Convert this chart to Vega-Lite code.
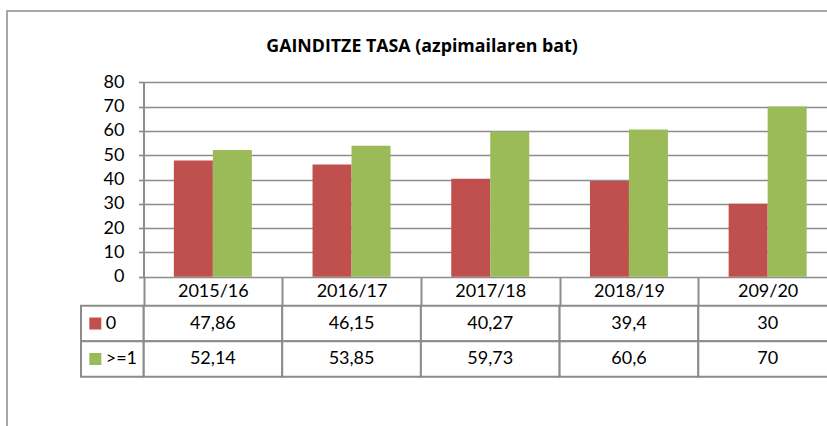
{
  "$schema": "https://vega.github.io/schema/vega-lite/v6.json",
  "autosize": "none",
  "padding": {"left": 7, "top": 11, "right": 0, "bottom": 0},
  "width": 830,
  "height": 430,
  "background": "white",
  "title": {
    "text": "GAINDITZE TASA (azpimailaren bat)",
    "anchor": "middle",
    "frame": "group",
    "offset": -54,
    "baseline": "middle",
    "font": "Open Sans",
    "fontSize": 17.8,
    "fontWeight": "bold",
    "color": "black"
  },
  "config": {
    "font": "Lato",
    "view": {"stroke": "#8c8c8c", "strokeWidth": 1.5},
    "locale": {"number": {"decimal": ",", "thousands": ".", "grouping": [3], "currency": ["", " €"]}}
  },
  "data": {
    "values": [
      {"year": "2015/16", "group": "0", "value": 47.86},
      {"year": "2015/16", "group": ">=1", "value": 52.14},
      {"year": "2016/17", "group": "0", "value": 46.15},
      {"year": "2016/17", "group": ">=1", "value": 53.85},
      {"year": "2017/18", "group": "0", "value": 40.27},
      {"year": "2017/18", "group": ">=1", "value": 59.73},
      {"year": "2018/19", "group": "0", "value": 39.4},
      {"year": "2018/19", "group": ">=1", "value": 60.6},
      {"year": "209/20", "group": "0", "value": 30},
      {"year": "209/20", "group": ">=1", "value": 70}
    ]
  },
  "resolve": {"scale": {"x": "independent", "y": "independent"}},
  "layer": [
    {
      "mark": {"type": "bar"},
      "encoding": {
        "x": {
          "field": "year", "type": "nominal", "sort": null,
          "scale": {"domain": ["2015/16", "2016/17", "2017/18", "2018/19", "209/20"], "range": [136.5, 830], "paddingInner": 0, "paddingOuter": 0},
          "axis": {
            "orient": "bottom", "offset": -164.3, "title": null, "domain": false, "grid": false,
            "ticks": true, "tickBand": "extent", "tickSize": 29.1, "tickWidth": 2, "tickColor": "#8c8c8c",
            "labelFontSize": 18, "labelFont": "Lato", "labelColor": "black", "labelBaseline": "middle",
            "labelPadding": -14.3, "labelAngle": 0
          }
        },
        "xOffset": {
          "field": "group", "type": "nominal", "sort": null,
          "scale": {"domain": ["0", ">=1"], "paddingInner": 0, "paddingOuter": 0.778}
        },
        "y": {
          "field": "value", "type": "quantitative",
          "scale": {"domain": [0, 80], "range": [265.7, 71.3], "nice": false},
          "axis": {
            "offset": -136.5, "title": null, "values": [0, 10, 20, 30, 40, 50, 60, 70, 80],
            "grid": true, "gridColor": "#8c8c8c", "gridWidth": 1.7,
            "domainColor": "#8c8c8c", "domainWidth": 2,
            "tickColor": "#8c8c8c", "tickSize": 5, "tickWidth": 1.7,
            "labelFontSize": 18, "labelFont": "Lato", "labelColor": "black", "labelPadding": 14.5
          }
        },
        "color": {
          "field": "group", "type": "nominal",
          "scale": {"domain": ["0", ">=1"], "range": ["#C0504D", "#9BBB59"]},
          "legend": null
        }
      }
    },
    {
      "encoding": {
        "x": {
          "field": "year", "type": "nominal", "sort": null,
          "scale": {"domain": ["2015/16", "2016/17", "2017/18", "2018/19", "209/20"], "range": [136.5, 830], "paddingInner": 0, "paddingOuter": 0},
          "axis": null
        },
        "y": {
          "field": "group", "type": "nominal", "sort": null,
          "scale": {"domain": ["0", ">=1"], "range": [294.8, 365.7], "paddingInner": 0, "paddingOuter": 0},
          "axis": null
        }
      },
      "layer": [
        {"mark": {"type": "rect", "fill": "white", "stroke": "#8c8c8c", "strokeWidth": 2}},
        {
          "mark": {"type": "text", "fontSize": 18, "font": "Lato", "color": "black"},
          "encoding": {"text": {"field": "value", "type": "quantitative", "format": "~g"}}
        }
      ]
    },
    {
      "transform": [{"aggregate": [{"op": "count", "as": "n"}], "groupby": ["group"]}],
      "encoding": {
        "y": {
          "field": "group", "type": "nominal", "sort": null,
          "scale": {"domain": ["0", ">=1"], "range": [294.8, 365.7], "paddingInner": 0, "paddingOuter": 0},
          "axis": null
        }
      },
      "layer": [
        {
          "mark": {"type": "rect", "fill": "white", "stroke": "#8c8c8c", "strokeWidth": 2},
          "encoding": {
            "x": {"datum": "legend", "type": "nominal", "scale": {"domain": ["legend"], "range": [74, 136.5], "paddingInner": 0, "paddingOuter": 0}, "axis": null}
          }
        },
        {
          "mark": {"type": "square", "size": 144, "filled": true, "opacity": 1},
          "encoding": {
            "x": {"datum": "legend", "type": "nominal", "bandPosition": 0.229, "scale": {"domain": ["legend"], "range": [74, 136.5], "paddingInner": 0, "paddingOuter": 0}, "axis": null},
            "color": {"field": "group", "type": "nominal", "scale": {"domain": ["0", ">=1"], "range": ["#C0504D", "#9BBB59"]}, "legend": null}
          }
        },
        {
          "mark": {"type": "text", "fontSize": 18, "font": "Lato", "color": "black", "align": "left"},
          "encoding": {
            "x": {"datum": "legend", "type": "nominal", "bandPosition": 0.395, "scale": {"domain": ["legend"], "range": [74, 136.5], "paddingInner": 0, "paddingOuter": 0}, "axis": null},
            "text": {"field": "group", "type": "nominal"}
          }
        }
      ]
    }
  ]
}
